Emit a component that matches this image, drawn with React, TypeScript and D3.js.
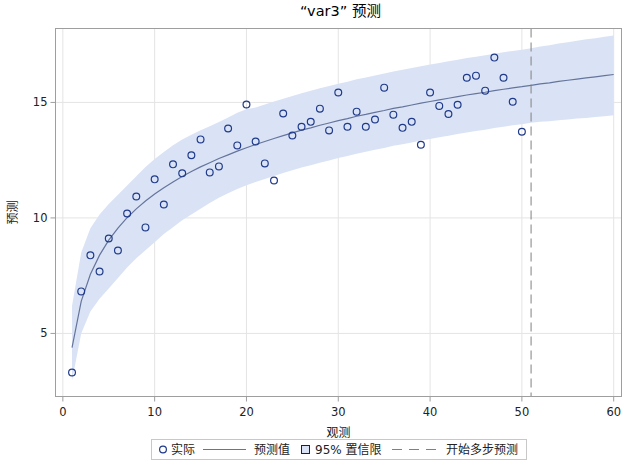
import React from "react";
import * as d3 from "d3";

const obsIndex: number[] = Array.from({ length: 60 }, (_, i) => i + 1);

const actualValues: number[] = [
  3.31, 6.82, 8.38, 7.68, 9.11, 8.59, 10.19, 10.93, 9.59, 11.67,
  10.58, 12.32, 11.93, 12.71, 13.40, 11.97, 12.23, 13.87, 13.14, 14.91,
  13.31, 12.36, 11.62, 14.52, 13.57, 13.95, 14.16, 14.73, 13.79, 15.43,
  13.95, 14.60, 13.95, 14.26, 15.64, 14.47, 13.90, 14.16, 13.17, 15.43,
  14.85, 14.50, 14.90, 16.07, 16.16, 15.51, 16.94, 16.07, 15.03, 13.73,
];

const forecastValues: number[] = [
  4.39, 6.39, 7.56, 8.39, 9.04, 9.56, 10.01, 10.39, 10.73, 11.04,
  11.31, 11.56, 11.79, 12.01, 12.21, 12.39, 12.57, 12.73, 12.89, 13.04,
  13.18, 13.31, 13.44, 13.56, 13.68, 13.80, 13.90, 14.01, 14.11, 14.21,
  14.30, 14.40, 14.48, 14.57, 14.65, 14.74, 14.81, 14.89, 14.97, 15.04,
  15.11, 15.18, 15.25, 15.32, 15.38, 15.44, 15.51, 15.57, 15.63, 15.68,
  15.74, 15.80, 15.85, 15.91, 15.96, 16.01, 16.06, 16.11, 16.16, 16.21,
];

const upperValues: number[] = [
  6.2, 8.5, 9.55, 10.15, 10.6, 11.0, 11.4, 11.8, 12.2, 12.55,
  12.85, 13.15, 13.4, 13.6, 13.8, 13.97, 14.15, 14.35, 14.55, 14.7,
  14.78, 14.91, 15.04, 15.16, 15.28, 15.4, 15.5, 15.61, 15.71, 15.81,
  15.9, 16.0, 16.08, 16.17, 16.25, 16.34, 16.41, 16.49, 16.57, 16.64,
  16.71, 16.78, 16.85, 16.92, 16.98, 17.04, 17.11, 17.17, 17.23, 17.28,
  17.34, 17.42, 17.48, 17.55, 17.61, 17.67, 17.73, 17.78, 17.84, 17.9,
];

const lowerValues: number[] = [
  2.95, 5.0, 5.95, 6.5, 6.95, 7.4, 7.85, 8.25, 8.6, 8.95,
  9.3, 9.6, 9.9, 10.15, 10.4, 10.65, 10.87, 11.07, 11.25, 11.42,
  11.56, 11.69, 11.82, 11.94, 12.06, 12.18, 12.28, 12.39, 12.49, 12.59,
  12.68, 12.78, 12.86, 12.95, 13.03, 13.12, 13.19, 13.27, 13.35, 13.42,
  13.49, 13.56, 13.63, 13.7, 13.76, 13.82, 13.89, 13.95, 14.01, 14.06,
  14.12, 14.16, 14.19, 14.23, 14.26, 14.3, 14.33, 14.37, 14.4, 14.44,
];

const forecastStart = 51;
const xTicks: number[] = [0, 10, 20, 30, 40, 50, 60];
const yTicks: number[] = [5, 10, 15];

const titleText = "“var3” 预测";
const xLabel = "观测";
const yLabel = "预测";
const legendLabels: string[] = ["实际", "预测值", "95% 置信限", "开始多步预测"];

const W = 629;
const H = 465;
const left = 55.5;
const right = 621.5;
const top = 28.5;
const bottom = 396.5;

const FONT = "'DejaVu Sans', 'Noto Sans CJK SC', sans-serif";
const markerColor = "#1F3A8A";
const lineColor = "#65749C";
const bandColor = "#DAE3F5";
const gridColor = "#E4E4E4";
const frameColor = "#9E9E9E";

export default function App() {
  const x = d3.scaleLinear().domain([-0.8, 60.85]).range([left, right]);
  const y = d3.scaleLinear().domain([2.27, 18.2]).range([bottom, top]);

  const area = d3
    .area<number>()
    .x((d) => x(d))
    .y0((d) => y(lowerValues[d - 1]))
    .y1((d) => y(upperValues[d - 1]));

  const line = d3
    .line<number>()
    .x((d) => x(d))
    .y((d) => y(forecastValues[d - 1]));

  const actualPts = actualValues.map((v, i) => ({ t: obsIndex[i], v }));

  const legendY = 449.5;

  return (
    <svg
      width={W}
      height={H}
      style={{ position: "absolute", left: 0, top: 0, background: "#fff" }}
      fontFamily={FONT}
    >
      <rect x={0} y={0} width={W} height={H} fill="#fff" />
      <text x={(left + right) / 2 + 2} y={16} textAnchor="middle" fontSize={14.5} fill="#000">
        {titleText}
      </text>

      {/* grid */}
      {xTicks.map((t) => (
        <line key={"gx" + t} x1={x(t)} x2={x(t)} y1={top} y2={bottom} stroke={gridColor} strokeWidth={1} />
      ))}
      {yTicks.map((t) => (
        <line key={"gy" + t} x1={left} x2={right} y1={y(t)} y2={y(t)} stroke={gridColor} strokeWidth={1} />
      ))}

      {/* band */}
      <path d={area(obsIndex) || ""} fill={bandColor} stroke="none" />

      {/* forecast line */}
      <path d={line(obsIndex) || ""} fill="none" stroke={lineColor} strokeWidth={1.2} />

      {/* actual points */}
      {actualPts.map((p) => (
        <circle
          key={"p" + p.t}
          cx={x(p.t)}
          cy={y(p.v)}
          r={3.4}
          fill="none"
          stroke={markerColor}
          strokeWidth={1.2}
        />
      ))}

      {/* forecast start */}
      <line
        x1={x(forecastStart)}
        x2={x(forecastStart)}
        y1={top}
        y2={bottom}
        stroke="#808080"
        strokeWidth={1}
        strokeDasharray="9,5"
      />

      {/* frame */}
      <rect x={left} y={top} width={right - left} height={bottom - top} fill="none" stroke={frameColor} strokeWidth={1} />

      {/* x axis */}
      {xTicks.map((t) => (
        <g key={"xt" + t}>
          <line x1={x(t)} x2={x(t)} y1={bottom} y2={bottom + 5} stroke={frameColor} />
          <text x={x(t)} y={bottom + 19} textAnchor="middle" fontSize={11.5} fill="#222">
            {t}
          </text>
        </g>
      ))}
      <text x={(left + right) / 2} y={437} textAnchor="middle" fontSize={12} fill="#222">
        {xLabel}
      </text>

      {/* y axis */}
      {yTicks.map((t) => (
        <g key={"yt" + t}>
          <line x1={left - 5} x2={left} y1={y(t)} y2={y(t)} stroke={frameColor} />
          <text x={left - 8} y={y(t) + 4} textAnchor="end" fontSize={11.5} fill="#222">
            {t}
          </text>
        </g>
      ))}
      <text
        transform={`translate(17, ${(top + bottom) / 2}) rotate(-90)`}
        textAnchor="middle"
        fontSize={12}
        fill="#222"
      >
        {yLabel}
      </text>

      {/* legend */}
      <rect x={151.5} y={439.5} width={375} height={20} fill="#fff" stroke="#C8C8C8" />
      <circle cx={163} cy={legendY} r={3.4} fill="none" stroke={markerColor} strokeWidth={1.2} />
      <text x={171} y={legendY + 4} fontSize={12} fill="#222">{legendLabels[0]}</text>
      <line x1={203} x2={246} y1={legendY} y2={legendY} stroke={lineColor} strokeWidth={1.2} />
      <text x={254} y={legendY + 4} fontSize={12} fill="#222">{legendLabels[1]}</text>
      <rect x={301.5} y={legendY - 4} width={8} height={8} fill={bandColor} stroke="#222" strokeWidth={1} />
      <text x={315} y={legendY + 4} fontSize={12} fill="#222">{legendLabels[2]}</text>
      <line x1={392} x2={437} y1={legendY} y2={legendY} stroke="#808080" strokeWidth={1} strokeDasharray="10,7" />
      <text x={446} y={legendY + 4} fontSize={12} fill="#222">{legendLabels[3]}</text>
    </svg>
  );
}
